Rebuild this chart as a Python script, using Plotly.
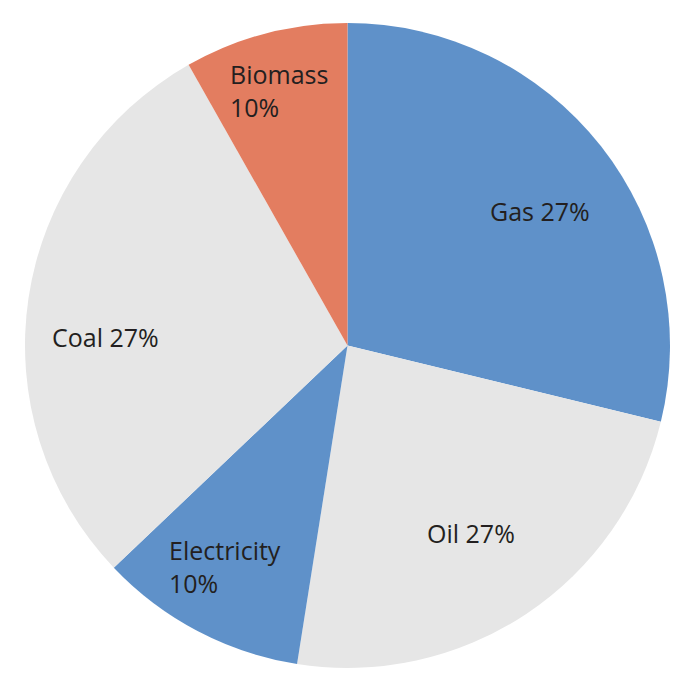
import plotly.graph_objects as go

categories = ["Gas", "Oil", "Electricity", "Coal", "Biomass"]
shares = [28.8, 23.7, 10.4, 28.9, 8.2]
label_text = ["Gas 27%", "Oil 27%", "Electricity<br>10%", "Coal 27%", "Biomass<br>10%"]
colors = ["#5F91C9", "#E6E6E6", "#5F91C9", "#E6E6E6", "#E37D60"]

# label anchor points (paper coords, left edge / vertical middle)
label_x = [0.718, 0.620, 0.220, 0.039, 0.315]
label_y = [0.709, 0.209, 0.158, 0.513, 0.896]

fig = go.Figure(go.Pie(
    labels=categories,
    values=shares,
    sort=False,
    direction="clockwise",
    rotation=0,
    marker=dict(colors=colors, line=dict(width=0)),
    textinfo="none",
    hoverinfo="label+percent",
    showlegend=False,
))

for txt, x, y in zip(label_text, label_x, label_y):
    fig.add_annotation(
        text=txt, x=x, y=y, xref="paper", yref="paper",
        xanchor="left", yanchor="middle", align="left",
        showarrow=False,
        font=dict(family="Open Sans, sans-serif", size=25, color="#231F20"),
    )

# page body has an 8px default margin, so pull the plot area back by that much
fig.update_layout(
    width=684, height=692,
    margin=dict(l=17, r=22, t=15, b=32),
    paper_bgcolor="white",
    plot_bgcolor="white",
)

fig.write_html("out.html")
